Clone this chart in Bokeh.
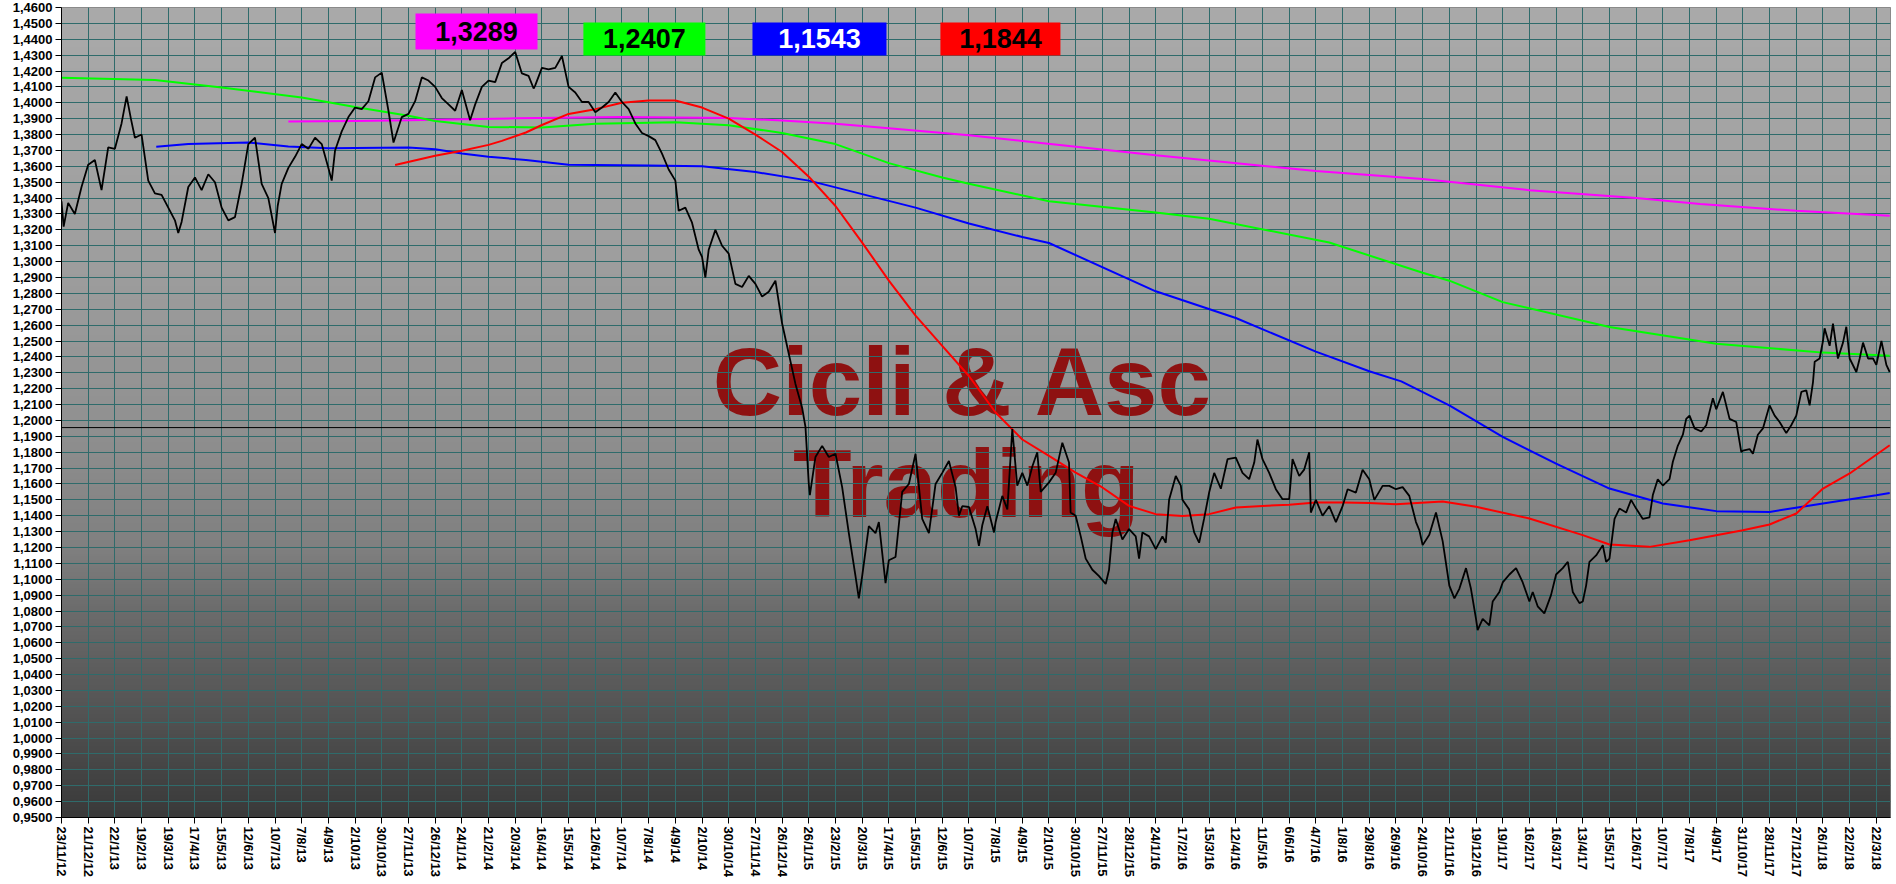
import math
import numpy as np
from bokeh.plotting import figure
from bokeh.models import Range1d, FixedTicker, Span, CustomJSTickFormatter, ColumnDataSource
from bokeh.core.properties import value
from bokeh.embed import file_html
from bokeh.resources import INLINE

# ---------------- data ----------------
date_labels = [
    "23/11/12", "21/12/12",
    "22/1/13", "19/2/13", "19/3/13", "17/4/13", "15/5/13", "12/6/13", "10/7/13", "7/8/13",
    "4/9/13", "2/10/13", "30/10/13", "27/11/13", "26/12/13",
    "24/1/14", "21/2/14", "20/3/14", "16/4/14", "15/5/14", "12/6/14", "10/7/14", "7/8/14",
    "4/9/14", "2/10/14", "30/10/14", "27/11/14", "26/12/14",
    "26/1/15", "23/2/15", "20/3/15", "17/4/15", "15/5/15", "12/6/15", "10/7/15", "7/8/15",
    "4/9/15", "2/10/15", "30/10/15", "27/11/15", "28/12/15",
    "24/1/16", "17/2/16", "15/3/16", "12/4/16", "11/5/16", "6/6/16", "4/7/16", "1/8/16",
    "29/8/16", "26/9/16", "24/10/16", "21/11/16", "19/12/16",
    "19/1/17", "16/2/17", "16/3/17", "13/4/17", "15/5/17", "12/6/17", "10/7/17", "7/8/17",
    "4/9/17", "31/10/17", "28/11/17", "27/12/17",
    "26/1/18", "22/2/18", "22/3/18",
]

# position along the axis, in label periods (20 trading sessions each)
price_t = [
    0.0, 0.08, 0.25, 0.5, 0.75, 1.0, 1.25, 1.5, 1.75, 2.0, 2.25, 2.44, 2.6, 2.75, 3.0,
    3.25, 3.5, 3.75, 4.0, 4.25, 4.375, 4.5, 4.75, 5.0, 5.25, 5.5, 5.75, 6.0, 6.25, 6.5,
    6.75, 7.0, 7.25, 7.5, 7.75, 8.0, 8.1, 8.25, 8.5, 8.75, 9.0, 9.25, 9.5, 9.75, 10.0,
    10.125, 10.25, 10.5, 10.75, 11.0, 11.25, 11.5, 11.75, 12.0, 12.25, 12.44, 12.75, 13.0,
    13.25, 13.5, 13.75, 14.0, 14.25, 14.5, 14.75, 15.0, 15.31, 15.5, 15.75, 16.0, 16.25,
    16.5, 16.75, 17.0, 17.25, 17.5, 17.69, 17.75, 18.0, 18.25, 18.5, 18.75, 19.0, 19.25,
    19.5, 19.75, 20.0, 20.25, 20.5, 20.75, 21.0, 21.25, 21.5, 21.75, 22.0, 22.25, 22.5,
    22.75, 23.0, 23.125, 23.375, 23.625, 23.875, 24.0, 24.125, 24.25, 24.5, 24.75, 25.0,
    25.25, 25.5, 25.75, 26.0, 26.25, 26.5, 26.75, 27.0, 27.25, 27.5, 27.75, 27.875, 28.0,
    28.04, 28.25, 28.5, 28.75, 29.0, 29.25, 29.5, 29.75, 29.875, 30.0, 30.25, 30.5, 30.625,
    30.875, 31.0, 31.25, 31.5, 31.75, 32.0, 32.25, 32.5, 32.75, 33.0, 33.25, 33.5, 33.625,
    33.75, 34.0, 34.25, 34.375, 34.5, 34.69, 34.94, 35.0, 35.25, 35.44, 35.625, 35.81,
    36.0, 36.19, 36.375, 36.56, 36.69, 37.0, 37.25, 37.5, 37.75, 37.81, 38.0, 38.19,
    38.375, 38.625, 38.875, 39.125, 39.25, 39.375, 39.5, 39.75, 40.0, 40.25, 40.375, 40.5,
    40.75, 41.0, 41.25, 41.375, 41.5, 41.75, 41.94, 42.0, 42.25, 42.44, 42.625, 42.81,
    43.0, 43.19, 43.44, 43.69, 44.0, 44.25, 44.5, 44.69, 44.81, 45.0, 45.25, 45.5, 45.75,
    46.0, 46.125, 46.375, 46.56, 46.75, 46.81, 47.0, 47.25, 47.5, 47.75, 48.0, 48.19,
    48.5, 48.75, 49.0, 49.19, 49.5, 49.75, 50.0, 50.25, 50.5, 50.75, 50.875, 51.0, 51.25,
    51.5, 51.75, 52.0, 52.19, 52.375, 52.625, 52.81, 53.0, 53.06, 53.25, 53.5, 53.625,
    53.875, 54.0, 54.25, 54.5, 54.75, 55.0, 55.125, 55.31, 55.56, 55.81, 56.0, 56.25,
    56.44, 56.625, 56.875, 57.0, 57.125, 57.25, 57.5, 57.75, 57.875, 58.0, 58.19, 58.375,
    58.625, 58.81, 59.0, 59.25, 59.5, 59.625, 59.81, 60.0, 60.25, 60.375, 60.56, 60.75,
    60.875, 61.0, 61.19, 61.44, 61.625, 61.875, 62.0, 62.25, 62.5, 62.75, 62.94, 63.0,
    63.25, 63.375, 63.56, 63.75, 64.0, 64.19, 64.375, 64.625, 64.81, 65.0, 65.19, 65.375,
    65.5, 65.625, 65.69, 65.875, 66.0, 66.06, 66.25, 66.375, 66.56, 66.75, 66.875, 67.0,
    67.25, 67.375, 67.5, 67.69, 67.875, 68.0, 68.19, 68.375, 68.5,
]
price_v = [
    1.338, 1.322, 1.337, 1.330, 1.347, 1.361, 1.364, 1.345, 1.372, 1.371, 1.387, 1.404, 1.390, 1.378, 1.380,
    1.351, 1.343, 1.342, 1.334, 1.326, 1.318, 1.325, 1.347, 1.353, 1.345, 1.355, 1.350, 1.334, 1.326, 1.328,
    1.349, 1.374, 1.378, 1.349, 1.340, 1.318, 1.335, 1.349, 1.359, 1.366, 1.374, 1.371, 1.378, 1.374, 1.359,
    1.351, 1.370, 1.382, 1.391, 1.397, 1.396, 1.401, 1.416, 1.419, 1.395, 1.375, 1.391, 1.393,
    1.401, 1.416, 1.414, 1.410, 1.403, 1.399, 1.395, 1.408, 1.389, 1.399, 1.410, 1.414, 1.413,
    1.425, 1.428, 1.432, 1.4185, 1.417, 1.409, 1.411, 1.422, 1.421, 1.422, 1.4295, 1.410, 1.4065,
    1.4005, 1.4005, 1.394, 1.397, 1.4005, 1.4065, 1.4005, 1.396, 1.387, 1.381, 1.379, 1.3765, 1.368,
    1.358, 1.351, 1.332, 1.334, 1.3245, 1.3075, 1.303, 1.290, 1.3075, 1.320, 1.310, 1.305,
    1.286, 1.284, 1.291, 1.286, 1.278, 1.281, 1.288, 1.261, 1.242, 1.223, 1.208, 1.196, 1.160,
    1.153, 1.177, 1.184, 1.177, 1.179, 1.158, 1.129, 1.102, 1.088, 1.102, 1.1335, 1.129, 1.136,
    1.0975, 1.112, 1.114, 1.155, 1.160, 1.179, 1.138, 1.129, 1.160, 1.167, 1.1745, 1.158, 1.140,
    1.146, 1.1455, 1.1316, 1.121, 1.134, 1.146, 1.1295, 1.136, 1.1525, 1.144, 1.1945, 1.159,
    1.167, 1.159, 1.171, 1.180, 1.155, 1.161, 1.167, 1.186, 1.1735, 1.142, 1.140, 1.127,
    1.113, 1.106, 1.102, 1.097, 1.106, 1.1295, 1.138, 1.125, 1.1316, 1.127, 1.113, 1.1295,
    1.127, 1.119, 1.127, 1.123, 1.150, 1.165, 1.159, 1.150, 1.144, 1.1295, 1.123, 1.138,
    1.1546, 1.167, 1.157, 1.1756, 1.1766, 1.167, 1.163, 1.1735, 1.188, 1.1756, 1.167, 1.1567, 1.1504,
    1.1504, 1.1756, 1.165, 1.169, 1.180, 1.142, 1.150, 1.140, 1.146, 1.136, 1.146, 1.1567,
    1.1546, 1.169, 1.163, 1.150, 1.1588, 1.1588, 1.1567, 1.158, 1.1525, 1.136, 1.131, 1.1215, 1.128,
    1.142, 1.124, 1.096, 1.088, 1.094, 1.107, 1.094, 1.075, 1.068, 1.075, 1.071, 1.086,
    1.092, 1.098, 1.103, 1.107, 1.098, 1.086, 1.092, 1.083, 1.0785, 1.090, 1.103, 1.107,
    1.111, 1.092, 1.085, 1.086, 1.096, 1.111, 1.115, 1.1215, 1.111, 1.113, 1.138, 1.1445,
    1.142, 1.150, 1.1445, 1.138, 1.139, 1.153, 1.163, 1.159, 1.163, 1.174, 1.184, 1.191,
    1.201, 1.203, 1.195, 1.193, 1.197, 1.214, 1.207, 1.218, 1.201, 1.199, 1.180, 1.181,
    1.182, 1.179, 1.191, 1.195, 1.2095, 1.203, 1.199, 1.192, 1.197, 1.203, 1.218, 1.219,
    1.2095, 1.224, 1.237, 1.239, 1.250, 1.258, 1.247, 1.261, 1.239, 1.249, 1.259, 1.239,
    1.2305, 1.239, 1.249, 1.239, 1.239, 1.235, 1.250, 1.235, 1.2305,
]

ma_green_t = [0, 3.5, 6, 9, 11, 13, 14, 16, 18, 20, 23, 25, 27, 29, 31, 33, 34, 37, 41, 43, 47.5, 51, 52, 54, 58, 62, 66, 68.5]
ma_green_v = [1.4157, 1.4144, 1.4096, 1.4033, 1.3974, 1.3918, 1.3886, 1.3848, 1.3845, 1.3868, 1.3878, 1.3858,
              1.381, 1.374, 1.362, 1.353, 1.349, 1.338, 1.331, 1.327, 1.312, 1.293, 1.288, 1.2745, 1.2588,
              1.2483, 1.2427, 1.2407]

ma_blue_t = [3.55, 4.75, 7, 8.5, 10, 13, 14, 15, 16, 17.4, 19, 22, 24, 26, 28, 30, 32, 34, 36, 37, 41, 44, 47,
             49, 50.2, 52, 54, 56, 58, 60, 62, 64, 66, 68, 68.5]
ma_blue_v = [1.3723, 1.374, 1.375, 1.3725, 1.3714, 1.3719, 1.3708, 1.3681, 1.366, 1.364, 1.361, 1.3605, 1.360,
             1.3564, 1.351, 1.3425, 1.334, 1.324, 1.3155, 1.3117, 1.2813, 1.2645, 1.2433, 1.231, 1.2246,
             1.2095, 1.1896, 1.1728, 1.1571, 1.1477, 1.1429, 1.1424, 1.1477, 1.1529, 1.1543]

ma_magenta_t = [8.5, 11, 13, 15, 17, 21, 25, 27, 29, 31, 34, 36, 41, 47, 51, 55, 59, 61.4, 65, 68.5]
ma_magenta_v = [1.3882, 1.3886, 1.389, 1.3897, 1.3902, 1.391, 1.3905, 1.3888, 1.3868, 1.384, 1.3795, 1.376,
                1.367, 1.357, 1.352, 1.345, 1.340, 1.3363, 1.332, 1.3289]

ma_red_t = [12.5, 14, 15, 16, 16.5, 17.4, 18, 19, 20, 21, 22, 23, 24, 25, 26, 27, 28, 29, 30, 31, 32, 33, 34,
            35, 36, 37, 38, 39, 40, 41, 42, 43, 44, 45, 46, 47, 48, 49, 50, 51.75, 53, 55, 57, 58, 59.5, 61,
            63, 64, 65, 66, 67, 68.5]
ma_red_v = [1.3608, 1.3666, 1.3698, 1.3735, 1.376, 1.3813, 1.386, 1.393, 1.396, 1.400, 1.4015, 1.4015, 1.397,
            1.390, 1.380, 1.369, 1.3535, 1.335, 1.312, 1.288, 1.266, 1.247, 1.228, 1.205, 1.188, 1.1777,
            1.1672, 1.1578, 1.1462, 1.141, 1.1399, 1.141, 1.1452, 1.1462, 1.1469, 1.1483, 1.1483, 1.148,
            1.1472, 1.149, 1.1456, 1.1383, 1.1278, 1.1219, 1.1204, 1.1246, 1.1309, 1.1345, 1.1414, 1.1571,
            1.1666, 1.1844]

ma_last_labels = ["1,3289", "1,2407", "1,1543", "1,1844"]
reference_level = 1.1955

y_ticks = [round(0.95 + 0.01 * i, 2) for i in range(52)]

# ---------------- figure ----------------
X_MAX = 68.53
p = figure(width=1894, height=882, x_range=Range1d(0, X_MAX), y_range=Range1d(0.95, 1.46),
           output_backend="svg", toolbar_location=None,
           min_border_left=61, min_border_right=4, min_border_top=7, min_border_bottom=65)
p.background_fill_color = "#a8a8a8"
p.border_fill_color = "white"
p.outline_line_color = "#808080"
p.outline_line_width = 1

# background gradient (style)
stops_v = [0.95, 1.02, 1.08, 1.12, 1.20, 1.30, 1.41, 1.46]
stops_g = [58, 85, 108, 128, 145, 158, 166, 170]
yy = np.linspace(0.95, 1.46, 400)
gg = np.interp(yy, stops_v, stops_g).astype(np.uint32)
img = (255 << 24) | (gg << 16) | (gg << 8) | gg
img = img.reshape(-1, 1).astype(np.uint32)
p.image_rgba(image=[img], x=0, y=0.95, dw=X_MAX, dh=0.51, level="image")

# watermark (below grid)
wm = ColumnDataSource(dict(x=[33.8, 33.9], y=[1.2248, 1.160], text=["Cicli & Asc", "Trading"]))
p.text(x="x", y="y", text="text", source=wm, text_font=value("Liberation Sans"),
       text_font_style="bold", text_font_size="96px", text_color="#8e1111",
       text_align="center", text_baseline="alphabetic", level="image")

# grid
for g in (p.xgrid, p.ygrid):
    g.grid_line_color = "#2f6b6b"
    g.grid_line_width = 1
    g.grid_line_alpha = 1.0

# axes
p.xaxis.ticker = FixedTicker(ticks=list(range(len(date_labels))))
p.xaxis.formatter = CustomJSTickFormatter(args=dict(labels=date_labels),
                                          code="const i = Math.round(tick); return labels[i] || '';")
p.xaxis.major_label_orientation = -math.pi / 2
p.yaxis.ticker = FixedTicker(ticks=y_ticks)
p.yaxis.formatter = CustomJSTickFormatter(code="return tick.toFixed(4).replace('.', ',');")
for ax in (p.xaxis, p.yaxis):
    ax.axis_line_color = "black"
    ax.axis_line_width = 1
    ax.major_tick_line_color = "black"
    ax.major_tick_out = 6
    ax.major_tick_in = 0
    ax.minor_tick_line_color = None
    ax.major_label_text_font = "Liberation Sans"
    ax.major_label_text_font_style = "bold"
    ax.major_label_text_font_size = "13px"
    ax.major_label_text_color = "black"
    ax.major_label_standoff = 3
    ax.axis_label_standoff = 0

# reference horizontal line
p.add_layout(Span(location=reference_level, dimension="width", line_color="black", line_width=1))

# moving averages
p.line(ma_magenta_t, ma_magenta_v, line_color="#ff00ff", line_width=2)
p.line(ma_green_t, ma_green_v, line_color="#00ff00", line_width=2)
p.line(ma_blue_t, ma_blue_v, line_color="#0000ff", line_width=2)
p.line(ma_red_t, ma_red_v, line_color="#ff0000", line_width=2)

# price
p.line(price_t, price_v, line_color="black", line_width=1.8)

# value boxes
box_x = [15.55, 21.84, 28.40, 35.18]
box_y = [1.4449, 1.4402, 1.4402, 1.4402]
box_w = [122, 122, 134, 120]
box_h = [36, 33, 33, 33]
box_fill = ["#ff00ff", "#00ff00", "#0000ff", "#ff0000"]
box_txt = ["black", "black", "white", "black"]
bsrc = ColumnDataSource(dict(x=box_x, y=box_y, w=box_w, h=box_h, fill=box_fill, tc=box_txt,
                             text=ma_last_labels))
p.rect(x="x", y="y", width="w", height="h", width_units="screen", height_units="screen",
       fill_color="fill", line_color=None, source=bsrc)
p.text(x="x", y="y", text="text", text_color="tc", source=bsrc,
       text_font=value("Liberation Sans"), text_font_style="bold", text_font_size="27px",
       text_align="center", text_baseline="middle")

open("out.html", "w").write(file_html(p, INLINE))
